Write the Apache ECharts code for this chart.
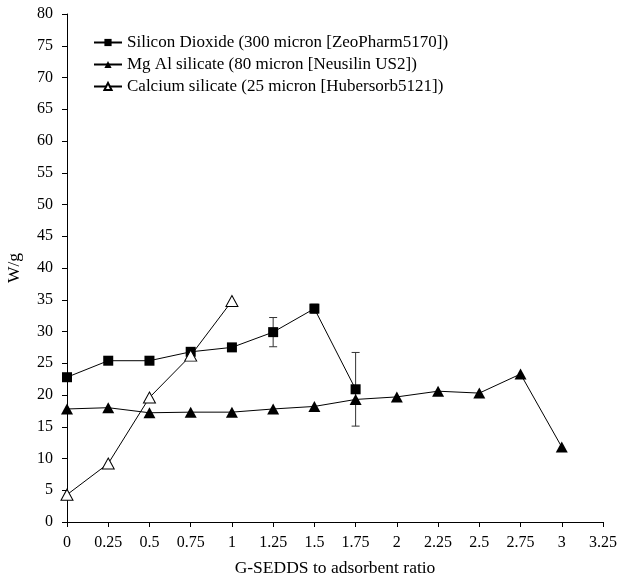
<!DOCTYPE html>
<html><head><meta charset="utf-8">
<script src="https://cdn.jsdelivr.net/npm/echarts@6/dist/echarts.min.js"></script>
<style>html,body{margin:0;padding:0;background:#fff}#c{width:621px;height:579px}</style>
</head><body><div id="c"></div>
<script>
const silicaX = [0, 0.25, 0.5, 0.75, 1, 1.25, 1.5, 1.75];
const silicaY = [22.8, 25.4, 25.4, 26.8, 27.5, 29.9, 33.6, 20.9];
const silicaErr = [0, 0, 0, 0, 0, 2.3, 0.7, 5.8];
const mgalX = [0, 0.25, 0.5, 0.75, 1, 1.25, 1.5, 1.75, 2, 2.25, 2.5, 2.75, 3];
const mgalY = [17.8, 18.0, 17.2, 17.3, 17.3, 17.8, 18.2, 19.3, 19.7, 20.6, 20.3, 23.3, 11.8];
const calX = [0, 0.25, 0.5, 0.75, 1];
const calY = [4.3, 9.2, 19.6, 26.2, 34.8];
const names = ['Silicon Dioxide (300 micron [ZeoPharm5170])', 'Mg Al silicate (80 micron [Neusilin US2])', 'Calcium silicate (25 micron [Hubersorb5121])'];
const xTitle = 'G-SEDDS to adsorbent ratio';
const yTitle = 'W/g';
const FONT = "'Liberation Serif', 'Times New Roman', serif";

const tri = 'path://M5,0 L10,9 L0,9 Z';
const pairs = (xs, ys) => xs.map((x, i) => [x, ys[i]]);
const errData = silicaX.map((x, i) => [x, silicaY[i] - silicaErr[i], silicaY[i] + silicaErr[i]]).filter((d, i) => silicaErr[i] > 0);

const chart = echarts.init(document.getElementById('c'), null, {renderer: 'canvas'});
chart.setOption({
  animation: false,
  textStyle: {fontFamily: FONT},
  grid: {left: 67, right: 18, top: 14, bottom: 57, containLabel: false, outerBoundsMode: 'none'},
  legend: {
    orient: 'vertical', left: 88, top: 29, itemWidth: 28, itemHeight: 9, itemGap: 5,
    textStyle: {fontFamily: FONT, fontSize: 17, color: '#000'},
    data: names
  },
  xAxis: {
    type: 'value', min: 0, max: 3.25, interval: 0.25,
    name: xTitle, nameLocation: 'middle', nameGap: 37,
    nameTextStyle: {fontFamily: FONT, fontSize: 17.5, color: '#000'},
    axisLine: {lineStyle: {color: '#000', width: 1}},
    axisTick: {show: true, length: 5, lineStyle: {color: '#000'}},
    axisLabel: {fontFamily: FONT, fontSize: 16, color: '#000', margin: 13, formatter: v => String(+v.toFixed(2))},
    splitLine: {show: false}
  },
  yAxis: {
    type: 'value', min: 0, max: 80, interval: 5,
    name: yTitle, nameLocation: 'middle', nameGap: 44, nameRotate: 90,
    nameTextStyle: {fontFamily: FONT, fontSize: 17.5, color: '#000'},
    axisLine: {show: true, lineStyle: {color: '#000', width: 1}},
    axisTick: {show: true, length: 5, lineStyle: {color: '#000'}},
    axisLabel: {fontFamily: FONT, fontSize: 16, color: '#000', margin: 14},
    splitLine: {show: false}
  },
  series: [
    {
      name: names[0], type: 'line', data: pairs(silicaX, silicaY),
      symbol: 'rect', symbolSize: 10,
      lineStyle: {color: '#000', width: 1}, itemStyle: {color: '#000'}, z: 3
    },
    {
      name: names[1], type: 'line', data: pairs(mgalX, mgalY),
      symbol: tri, symbolSize: [12, 11],
      lineStyle: {color: '#000', width: 1}, itemStyle: {color: '#000'}, z: 3
    },
    {
      name: names[2], type: 'line', data: pairs(calX, calY),
      symbol: tri, symbolSize: [12, 11], showAllSymbol: true,
      lineStyle: {color: '#000', width: 1}, itemStyle: {color: '#fff', borderColor: '#000', borderWidth: 1}, z: 4
    },
    {
      type: 'custom', data: errData, z: 2, silent: true,
      renderItem: function (params, api) {
        const x = api.value(0);
        const lo = api.coord([x, api.value(1)]);
        const hi = api.coord([x, api.value(2)]);
        const w = 4;
        const st = {stroke: '#333', lineWidth: 1};
        return {type: 'group', children: [
          {type: 'line', shape: {x1: lo[0], y1: lo[1], x2: hi[0], y2: hi[1]}, style: st},
          {type: 'line', shape: {x1: lo[0] - w, y1: lo[1], x2: lo[0] + w, y2: lo[1]}, style: st},
          {type: 'line', shape: {x1: hi[0] - w, y1: hi[1], x2: hi[0] + w, y2: hi[1]}, style: st}
        ]};
      }
    }
  ]
});
</script></body></html>
